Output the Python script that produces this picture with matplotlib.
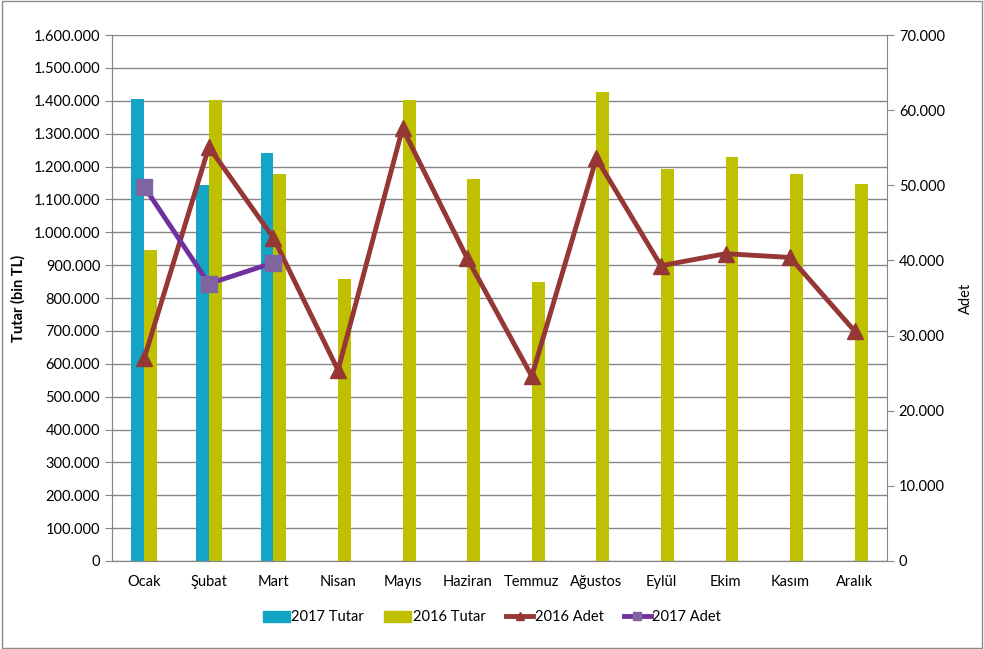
import matplotlib.pyplot as plt
from matplotlib.ticker import FuncFormatter, MultipleLocator
from matplotlib.lines import Line2D
from matplotlib.patches import Patch
import numpy as np

months = ["Ocak", "Şubat", "Mart", "Nisan", "Mayıs", "Haziran", "Temmuz",
          "Ağustos", "Eylül", "Ekim", "Kasım", "Aralık"]
tutar2017 = [1405000, 1145000, 1240000]
tutar2016 = [947000, 1403000, 1178000, 858000, 1403000, 1163000, 850000,
             1428000, 1193000, 1228000, 1178000, 1148000]
adet2016 = [27000, 55100, 43000, 25400, 57600, 40300, 24600,
            53600, 39300, 40900, 40400, 30600]
adet2017 = [49800, 36900, 39700]

plt.rcParams['font.family'] = ['Lato', 'DejaVu Sans']

def dots(v, pos):
    return "{:,}".format(int(round(v))).replace(",", ".")

fig = plt.figure(figsize=(9.84, 6.49), dpi=100)
fig.patches.append(plt.Rectangle((0.002, 0.002), 0.996, 0.996, transform=fig.transFigure,
                                 fill=False, edgecolor="#8c8c8c", linewidth=1))
ax = fig.add_axes([0.1138, 0.1356, 0.7876, 0.8104])
ax2 = ax.twinx()

x = np.arange(len(months))
w = 0.2
ax.bar(x[:len(tutar2017)] - w / 2, tutar2017, w, color="#14A5C6", zorder=3)
ax.bar(x + w / 2, tutar2016, w, color="#BFC000", zorder=3)

ax2.plot(x, adet2016, color="#953735", lw=3.5, marker="^", ms=11, zorder=4)
ax2.plot(x[:len(adet2017)], adet2017, color="#7030A0", lw=3.5, marker="s", ms=11,
         markerfacecolor="#8064A2", markeredgecolor="#8064A2", zorder=5)

ax.set_xlim(-0.5, 11.5)
ax.set_ylim(0, 1600000)
ax2.set_ylim(0, 70000)
ax.yaxis.set_major_locator(MultipleLocator(100000))
ax2.yaxis.set_major_locator(MultipleLocator(10000))
ax.yaxis.set_major_formatter(FuncFormatter(dots))
ax2.yaxis.set_major_formatter(FuncFormatter(dots))
ax.set_xticks(x)
ax.set_xticklabels(months)
ax.grid(axis="y", color="#868686", lw=1, zorder=0)
ax.set_axisbelow(True)

for a in (ax, ax2):
    for s in a.spines.values():
        s.set_color("#868686")
    a.spines["top"].set_visible(False)
    a.tick_params(labelsize=10.5, color="#868686", length=5)
ax.spines["right"].set_visible(False)
ax.tick_params(axis="x", length=0, pad=10)

ax.set_ylabel("Tutar (bin TL)", fontsize=10.5, fontweight="bold", labelpad=6)
ax2.set_ylabel("Adet", fontsize=10.5, labelpad=10)

handles = [Patch(color="#14A5C6"), Patch(color="#BFC000"),
           Line2D([], [], color="#953735", lw=3.5, marker="^", ms=6),
           Line2D([], [], color="#7030A0", lw=3.5, marker="s", ms=6,
                  markerfacecolor="#8064A2", markeredgecolor="#8064A2")]
fig.legend(handles, ["2017 Tutar", "2016 Tutar", "2016 Adet", "2017 Adet"],
           loc="center", bbox_to_anchor=(0.5, 0.049), ncol=4, frameon=False,
           fontsize=10.5, handlelength=1.85, handleheight=0.8, handletextpad=0.1,
           columnspacing=1.4)

fig.savefig("out.png", dpi=100)
